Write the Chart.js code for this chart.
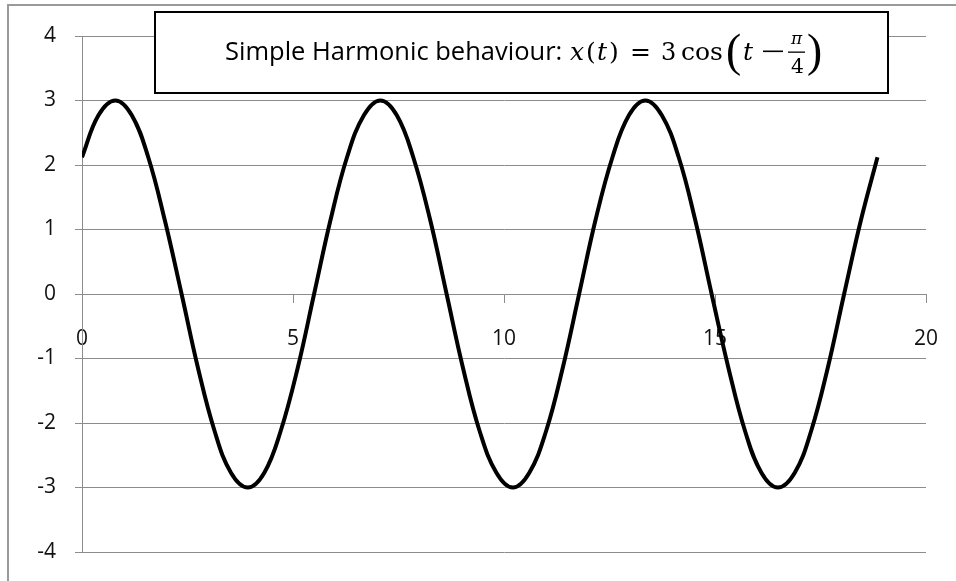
<!DOCTYPE html>
<html lang="en">
<head>
    <meta charset="UTF-8">
    <title>Simple Harmonic behaviour</title>
    <script src="https://cdn.jsdelivr.net/npm/chart.js"></script>
    <style>
        html, body { margin: 0; padding: 0; background: #fff; }
        #wrap { position: relative; width: 956px; height: 581px; }
        #frame { position: absolute; left: 7px; top: 4px; right: 0; bottom: 0;
                 border-left: 2px solid #9a9a9a; border-top: 2px solid #9a9a9a; pointer-events: none; }
    </style>
</head>
<body>
    <div id="wrap">
        <canvas id="shm" width="956" height="581"></canvas>
        <div id="frame"></div>
    </div>

    <script>
        // t values (every ~0.39)
        const tValues = [0, 0.39, 0.79, 1.18, 1.57, 1.96, 2.36, 2.75, 3.14, 3.53, 3.93, 4.32, 4.71, 5.11, 5.50, 5.89,
            6.28, 6.68, 7.07, 7.46, 7.85, 8.25, 8.64, 9.03, 9.42, 9.82, 10.21, 10.60, 11.00, 11.39, 11.78, 12.17,
            12.57, 12.96, 13.35, 13.74, 14.14, 14.53, 14.92, 15.32, 15.71, 16.10, 16.49, 16.89, 17.28, 17.67, 18.06, 18.46,
            18.85];
        // x(t) values
        const xValues = [2.12, 2.77, 3, 2.77, 2.12, 1.15, 0, -1.15, -2.12, -2.77, -3, -2.77, -2.12, -1.15, 0, 1.15,
            2.12, 2.77, 3, 2.77, 2.12, 1.15, 0, -1.15, -2.12, -2.77, -3, -2.77, -2.12, -1.15, 0, 1.15,
            2.12, 2.77, 3, 2.77, 2.12, 1.15, 0, -1.15, -2.12, -2.77, -3, -2.77, -2.12, -1.15, 0, 1.15,
            2.12];
        const xTicks = [0, 5, 10, 15, 20];
        const yTicks = [-4, -3, -2, -1, 0, 1, 2, 3, 4];

        const points = tValues.map((t, i) => ({ x: t, y: xValues[i] }));

        // title box with the formula
        const titleBox = {
            id: 'titleBox',
            afterDraw(chart) {
                const ctx = chart.ctx;
                ctx.save();
                ctx.fillStyle = '#fff';
                ctx.fillRect(155, 12, 733, 81);
                ctx.strokeStyle = '#000';
                ctx.lineWidth = 2;
                ctx.strokeRect(155, 12, 733, 81);

                ctx.fillStyle = '#000';
                ctx.textBaseline = 'alphabetic';
                ctx.textAlign = 'left';
                const base = 60;
                // glyph ink starts at left, sits on baseline y
                const at = (s, font, left, y) => {
                    ctx.font = font;
                    const m = ctx.measureText(s);
                    ctx.fillText(s, left + m.actualBoundingBoxLeft, y);
                };
                // glyph ink box fitted to left/top/height
                const fit = (s, family, left, top, h) => {
                    ctx.font = '100px ' + family;
                    let m = ctx.measureText(s);
                    const size = 100 * h / (m.actualBoundingBoxAscent + m.actualBoundingBoxDescent);
                    ctx.font = size + 'px ' + family;
                    m = ctx.measureText(s);
                    ctx.fillText(s, left + m.actualBoundingBoxLeft, top + m.actualBoundingBoxAscent);
                };
                const it = 'italic 25px "DejaVu Serif"';
                const rm = '25px "DejaVu Serif"';

                ctx.font = '25.5px "Open Sans"';
                ctx.fillText('Simple Harmonic behaviour:', 225, base);
                at('x', it, 570, base);
                at('(', rm, 587, base);
                at('t', it, 598, base);
                at(')', rm, 610, base);
                at('=', rm, 632, base);
                at('3', '24px "DejaVu Serif"', 662, base);
                at('cos', rm, 682, base);
                fit('(', '"Liberation Serif"', 728, 33, 42);
                at('t', it, 744, base);
                ctx.fillRect(763, 50.5, 20, 1.6);
                at('\u03c0', 'italic 17px "DejaVu Serif"', 790, 44);
                ctx.fillRect(788, 51.5, 17, 1.3);
                fit('4', '"DejaVu Serif"', 791, 58, 15);
                fit(')', '"Liberation Serif"', 808, 33, 42);
                ctx.restore();
            }
        };

        const gridGray = '#8c8c8c';
        // keep the tick labels from pushing the plot area around
        const noPad = s => { s.paddingLeft = 0; s.paddingRight = 0; s.paddingTop = 0; s.paddingBottom = 0; };

        new Chart(document.getElementById('shm'), {
            type: 'scatter',
            data: {
                datasets: [{
                    label: 'x(t)',
                    data: points,
                    showLine: true,
                    borderColor: '#000',
                    borderWidth: 4,
                    pointRadius: 0,
                    tension: 0.4,
                    fill: false
                }]
            },
            options: {
                responsive: false,
                animation: false,
                events: [],
                layout: { padding: { left: 0, top: 36, right: 30, bottom: 29 } },
                plugins: {
                    legend: { display: false },
                    tooltip: { enabled: false }
                },
                scales: {
                    x: {
                        type: 'linear',
                        position: { y: 0 },
                        min: 0,
                        max: 20,
                        afterBuildTicks: s => { s.ticks = xTicks.map(v => ({ value: v })); },
                        afterFit: noPad,
                        grid: { drawOnChartArea: false, drawTicks: true, tickLength: 8, color: gridGray },
                        border: { display: true, color: gridGray, width: 1 },
                        ticks: {
                            color: '#111',
                            font: { family: '"Open Sans"', size: 21 },
                            padding: 24,
                            maxRotation: 0
                        }
                    },
                    y: {
                        min: -4,
                        max: 4,
                        afterBuildTicks: s => { s.ticks = yTicks.map(v => ({ value: v })); },
                        afterFit: s => { noPad(s); s.width = 82; },
                        grid: { color: gridGray, tickLength: 7 },
                        border: { display: true, color: gridGray, width: 1 },
                        ticks: {
                            color: '#111',
                            font: { family: '"Open Sans"', size: 21 },
                            padding: 19
                        }
                    }
                }
            },
            plugins: [titleBox]
        });
    </script>
</body>
</html>
